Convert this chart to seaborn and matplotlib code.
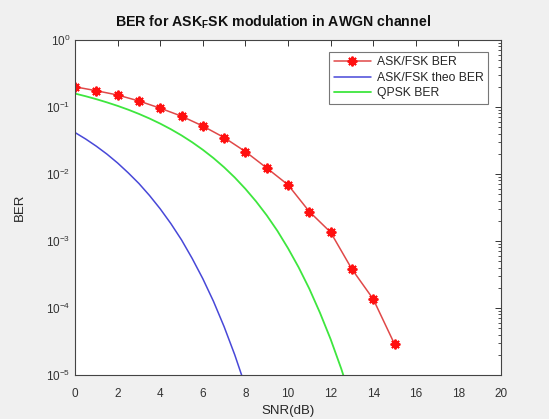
import numpy as np
import pandas as pd
import matplotlib
matplotlib.use("Agg")
import matplotlib.pyplot as plt
import seaborn as sns
from matplotlib.ticker import LogLocator, FixedLocator

# ---- data ----
snr_sim = [0, 1, 2, 3, 4, 5, 6, 7, 8, 9, 10, 11, 12, 13, 14, 15]
ber_sim = [0.20, 0.175, 0.151, 0.123, 0.096, 0.073, 0.052, 0.035, 0.0216,
           0.0123, 0.0069, 0.00275, 0.00135, 0.00038, 0.000136, 2.9e-5]

snr_theo = [0, 0.5, 1, 1.5, 2, 2.5, 3, 3.5, 4, 4.5, 5, 5.5, 6, 6.5, 7, 7.5, 8]
ber_theo = [0.0416, 0.0333, 0.0260, 0.0198, 0.0146, 0.0104, 0.00722, 0.00477,
            0.00302, 0.00182, 0.00104, 0.00055, 0.000274, 0.000126, 5.27e-5,
            2.0e-5, 6.8e-6]

snr_qpsk = [0, 0.5, 1, 1.5, 2, 2.5, 3, 3.5, 4, 4.5, 5, 5.5, 6, 6.5, 7, 7.5, 8,
            8.5, 9, 9.5, 10, 10.5, 11, 11.5, 12, 12.5, 13]
ber_qpsk = [0.1587, 0.1448, 0.1309, 0.1172, 0.1040, 0.0912, 0.0789, 0.0673,
            0.0565, 0.0466, 0.0377, 0.0298, 0.0230, 0.0173, 0.0126, 0.00887,
            0.00600, 0.00390, 0.00242, 0.00142, 0.00078, 0.000404, 0.000194,
            8.5e-5, 3.43e-5, 1.24e-5, 4.0e-6]

labels = ["ASK/FSK BER", "ASK/FSK theo BER", "QPSK BER"]
title = r"BER for ASK$_\mathbf{F}$SK modulation in AWGN channel"
xticks = [0, 2, 4, 6, 8, 10, 12, 14, 16, 18, 20]

sns.set_style("white")
plt.rcParams["font.family"] = ["Liberation Sans", "DejaVu Sans"]
plt.rcParams["mathtext.fontset"] = "custom"
plt.rcParams["mathtext.rm"] = "Liberation Sans"
plt.rcParams["mathtext.it"] = "Liberation Sans"
plt.rcParams["mathtext.bf"] = "Liberation Sans:bold"

fig = plt.figure(figsize=(5.49, 4.19), dpi=100, facecolor="#f0f0f0")
ax = fig.add_axes([75 / 549, 1 - 375 / 419, 426 / 549, 335 / 419])
ax.set_facecolor("white")

df_sim = pd.DataFrame({"snr": snr_sim, "ber": ber_sim})
df_theo = pd.DataFrame({"snr": snr_theo, "ber": ber_theo})
df_qpsk = pd.DataFrame({"snr": snr_qpsk, "ber": ber_qpsk})

sns.lineplot(data=df_sim, x="snr", y="ber", ax=ax, color="#e04848", lw=1.1,
             marker=(8, 2, 0), markersize=7, markeredgewidth=1.4,
             markerfacecolor="#ff1010", markeredgecolor="#ff1010",
             label=labels[0])
sns.lineplot(data=df_theo, x="snr", y="ber", ax=ax, color="#4848d8", lw=1.1,
             label=labels[1])
sns.lineplot(data=df_qpsk, x="snr", y="ber", ax=ax, color="#3ee63e", lw=1.3,
             label=labels[2])

ax.set_yscale("log")
ax.set_xlim(0, 20)
ax.set_ylim(1e-5, 1)
ax.xaxis.set_major_locator(FixedLocator(xticks))
ax.yaxis.set_major_locator(LogLocator(base=10, numticks=10))
ax.yaxis.set_minor_locator(LogLocator(base=10, subs=np.arange(2, 10), numticks=10))

tc = "#333333"
ax.tick_params(axis="both", which="both", direction="in", top=True, right=True,
               colors=tc, labelsize=8.5)
ax.tick_params(axis="both", which="major", length=4, width=0.7)
ax.tick_params(axis="y", which="minor", length=2, width=0.6)
ax.tick_params(axis="x", which="major", pad=9)
for s in ax.spines.values():
    s.set_color("#444444")
    s.set_linewidth(0.8)

ax.set_xlabel("SNR(dB)", fontsize=9.5, color="#262626", labelpad=4)
ax.set_ylabel("BER", fontsize=9.5, color="#262626", labelpad=14)
ax.set_title(title, fontsize=10.2, fontweight="bold", color="#111111", pad=10,
             x=0.466)

leg = ax.legend(loc="upper right", fontsize=8.7, frameon=True, fancybox=False,
                borderpad=0.35, labelspacing=0.3, handlelength=3.1,
                handletextpad=0.5, borderaxespad=0.0,
                bbox_to_anchor=(413 / 426, 1 - 12 / 335))
leg.get_frame().set_edgecolor("#555555")
leg.get_frame().set_linewidth(0.8)

fig.savefig("out.png", dpi=100, facecolor=fig.get_facecolor())
